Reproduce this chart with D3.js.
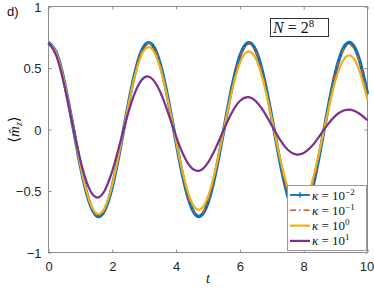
<!DOCTYPE html>
<html>
<head>
<meta charset="utf-8">
<script src="https://cdn.jsdelivr.net/npm/d3@7"></script>
<style>
  body { margin: 0; background: #fff; }
  svg { display: block; }
  .tick text { font-family: "Liberation Sans", Arial, sans-serif; font-size: 13px; fill: #262626; }
  .serif { font-family: "Liberation Serif", "DejaVu Serif", serif; }
</style>
</head>
<body>
<script>
// time grid (t), read every 0.25
const tValues = d3.range(0, 10.001, 0.25);

// <m_z> for each kappa
const kappa1e_2 = [0.707, 0.620, 0.382, 0.050, -0.294, -0.566, -0.700, -0.662, -0.462, -0.149,
  0.201, 0.501, 0.679, 0.690, 0.533, 0.245, -0.103, -0.426, -0.644, -0.705,
  -0.593, -0.336, 0.003, 0.342, 0.597, 0.705, 0.642, 0.421, 0.097, -0.251,
  -0.537, -0.689, -0.677, -0.504, -0.195, 0.155, 0.467, 0.664, 0.699, 0.563, 0.289];
const kappa1e_1 = [0.707, 0.620, 0.382, 0.050, -0.293, -0.564, -0.697, -0.659, -0.460, -0.148,
  0.200, 0.498, 0.674, 0.684, 0.528, 0.243, -0.102, -0.421, -0.637, -0.697,
  -0.586, -0.332, 0.003, 0.337, 0.588, 0.694, 0.632, 0.414, 0.095, -0.246,
  -0.527, -0.676, -0.663, -0.493, -0.191, 0.152, 0.456, 0.649, 0.682, 0.549, 0.282];
const kappa1e0 = [0.707, 0.617, 0.379, 0.049, -0.289, -0.554, -0.682, -0.643, -0.447, -0.143,
  0.193, 0.478, 0.645, 0.653, 0.502, 0.230, -0.096, -0.396, -0.597, -0.650,
  -0.545, -0.307, 0.003, 0.310, 0.539, 0.634, 0.575, 0.375, 0.086, -0.222,
  -0.473, -0.604, -0.591, -0.438, -0.169, 0.134, 0.401, 0.567, 0.595, 0.477, 0.244];
const kappa1e1 = [0.707, 0.596, 0.353, 0.044, -0.251, -0.465, -0.552, -0.502, -0.337, -0.104,
  0.135, 0.324, 0.423, 0.413, 0.307, 0.135, -0.055, -0.218, -0.316, -0.333,
  -0.269, -0.147, 0.001, 0.138, 0.231, 0.263, 0.230, 0.145, 0.032, -0.080,
  -0.164, -0.202, -0.191, -0.137, -0.051, 0.039, 0.113, 0.154, 0.160, 0.128, 0.075];

const seriesNames = ["-2", "-1", "0", "1"];
const xTicks = [0, 2, 4, 6, 8, 10];
const yTicks = [-1, -0.5, 0, 0.5, 1];

const width = 374, height = 290;
const plotLeft = 48.5, plotRight = 367.5, plotTop = 6.5, plotBottom = 252.5;

const svg = d3.select("body").append("svg")
    .attr("width", width)
    .attr("height", height);

const x = d3.scaleLinear().domain([0, 10]).range([plotLeft, plotRight]);
const y = d3.scaleLinear().domain([-1, 1]).range([plotBottom, plotTop]);

const axisColor = "#8c8c8c";

// axes (ticks point inward, MATLAB style)
const gx = svg.append("g").attr("transform", `translate(0,${plotBottom})`)
    .call(d3.axisBottom(x).tickValues(xTicks).tickSize(-3).tickPadding(9).tickFormat(d3.format("d")));
const gy = svg.append("g").attr("transform", `translate(${plotLeft},0)`)
    .call(d3.axisLeft(y).tickValues(yTicks).tickSize(-3).tickPadding(7).tickFormat(d => d3.format("")(d)));
const gt = svg.append("g").attr("transform", `translate(0,${plotTop})`)
    .call(d3.axisTop(x).tickValues(xTicks).tickSize(-3).tickFormat(""));
const gr = svg.append("g").attr("transform", `translate(${plotRight},0)`)
    .call(d3.axisRight(y).tickValues(yTicks).tickSize(-3).tickFormat(""));
[gx, gy, gt, gr].forEach(g => {
    g.selectAll("path.domain").remove();
    g.selectAll(".tick line").attr("stroke", axisColor);
});
gy.selectAll(".tick text").attr("dy", "0.36em");
// keep the last x label inside the window
gx.selectAll(".tick text").filter(d => d === 10).attr("dx", -1);

svg.append("rect")
    .attr("x", plotLeft).attr("y", plotTop)
    .attr("width", plotRight - plotLeft).attr("height", plotBottom - plotTop)
    .attr("fill", "none").attr("stroke", axisColor);

const series = [
    { vals: kappa1e_2, color: "#0072BD", w: 3.4, dash: null },
    { vals: kappa1e_1, color: "#D95319", w: 1.6, dash: "6,3,1.5,3" },
    { vals: kappa1e0, color: "#EDB120", w: 2.2, dash: null },
    { vals: kappa1e1, color: "#7E2F8E", w: 2.2, dash: null }
];

const line = d3.line()
    .x((d, i) => x(tValues[i]))
    .y(d => y(d))
    .curve(d3.curveNatural);

const plot = svg.append("g");
series.forEach(s => {
    plot.append("path")
        .datum(s.vals)
        .attr("d", line)
        .attr("fill", "none")
        .attr("stroke", s.color)
        .attr("stroke-width", s.w)
        .attr("stroke-dasharray", s.dash)
        .attr("stroke-linejoin", "round");
});

// legend
const lg = svg.append("g");
lg.append("rect")
    .attr("x", 287.5).attr("y", 185.5).attr("width", 79).attr("height", 65)
    .attr("fill", "#fff").attr("stroke", "#9a9a9a");
series.forEach((s, i) => {
    const yy = 195 + i * 15.3;
    lg.append("line")
        .attr("x1", 290).attr("x2", 310).attr("y1", yy).attr("y2", yy)
        .attr("stroke", s.color)
        .attr("stroke-width", i === 0 ? 1.8 : s.w)
        .attr("stroke-dasharray", s.dash);
    if (i === 0) {
        lg.append("path")
            .attr("d", `M297,${yy}h6M300,${yy - 3}v6`)
            .attr("stroke", s.color).attr("stroke-width", 1.2);
    }
    const tx = lg.append("text").attr("class", "serif")
        .attr("x", 312).attr("y", yy + 4.5)
        .attr("font-size", 13).attr("fill", "#111");
    tx.append("tspan").attr("font-style", "italic").text("κ");
    tx.append("tspan").text(" = 10");
    tx.append("tspan").attr("font-size", 9).attr("dy", -5).text(seriesNames[i].replace("-", "−"));
});

// N = 2^8 box
svg.append("rect")
    .attr("x", 270.5).attr("y", 18.5).attr("width", 58).attr("height", 18)
    .attr("fill", "#fff").attr("stroke", "#333");
const nt = svg.append("text").attr("class", "serif")
    .attr("x", 273).attr("y", 33).attr("font-size", 16).attr("fill", "#111");
nt.append("tspan").attr("font-style", "italic").text("N");
nt.append("tspan").text(" = 2");
nt.append("tspan").attr("font-size", 11).attr("dy", -6).text("8");

// panel label
svg.append("text")
    .attr("x", 7).attr("y", 16)
    .attr("font-family", "Liberation Sans, Arial, sans-serif")
    .attr("font-size", 13).attr("fill", "#111")
    .text("d)");

// axis labels
svg.append("text").attr("class", "serif")
    .attr("x", x(5)).attr("y", 283)
    .attr("text-anchor", "middle").attr("font-size", 14).attr("font-style", "italic")
    .attr("fill", "#111")
    .text("t");

const yl = svg.append("text").attr("class", "serif")
    .attr("transform", `translate(19,${y(0)}) rotate(-90)`)
    .attr("text-anchor", "middle").attr("font-size", 15).attr("fill", "#111");
yl.append("tspan").text("⟨");
yl.append("tspan").attr("font-style", "italic").text("m\u0302");
yl.append("tspan").attr("font-style", "italic").attr("font-size", 10).attr("dy", 3).text("z");
yl.append("tspan").attr("dy", -3).text("⟩");
</script>
</body>
</html>
